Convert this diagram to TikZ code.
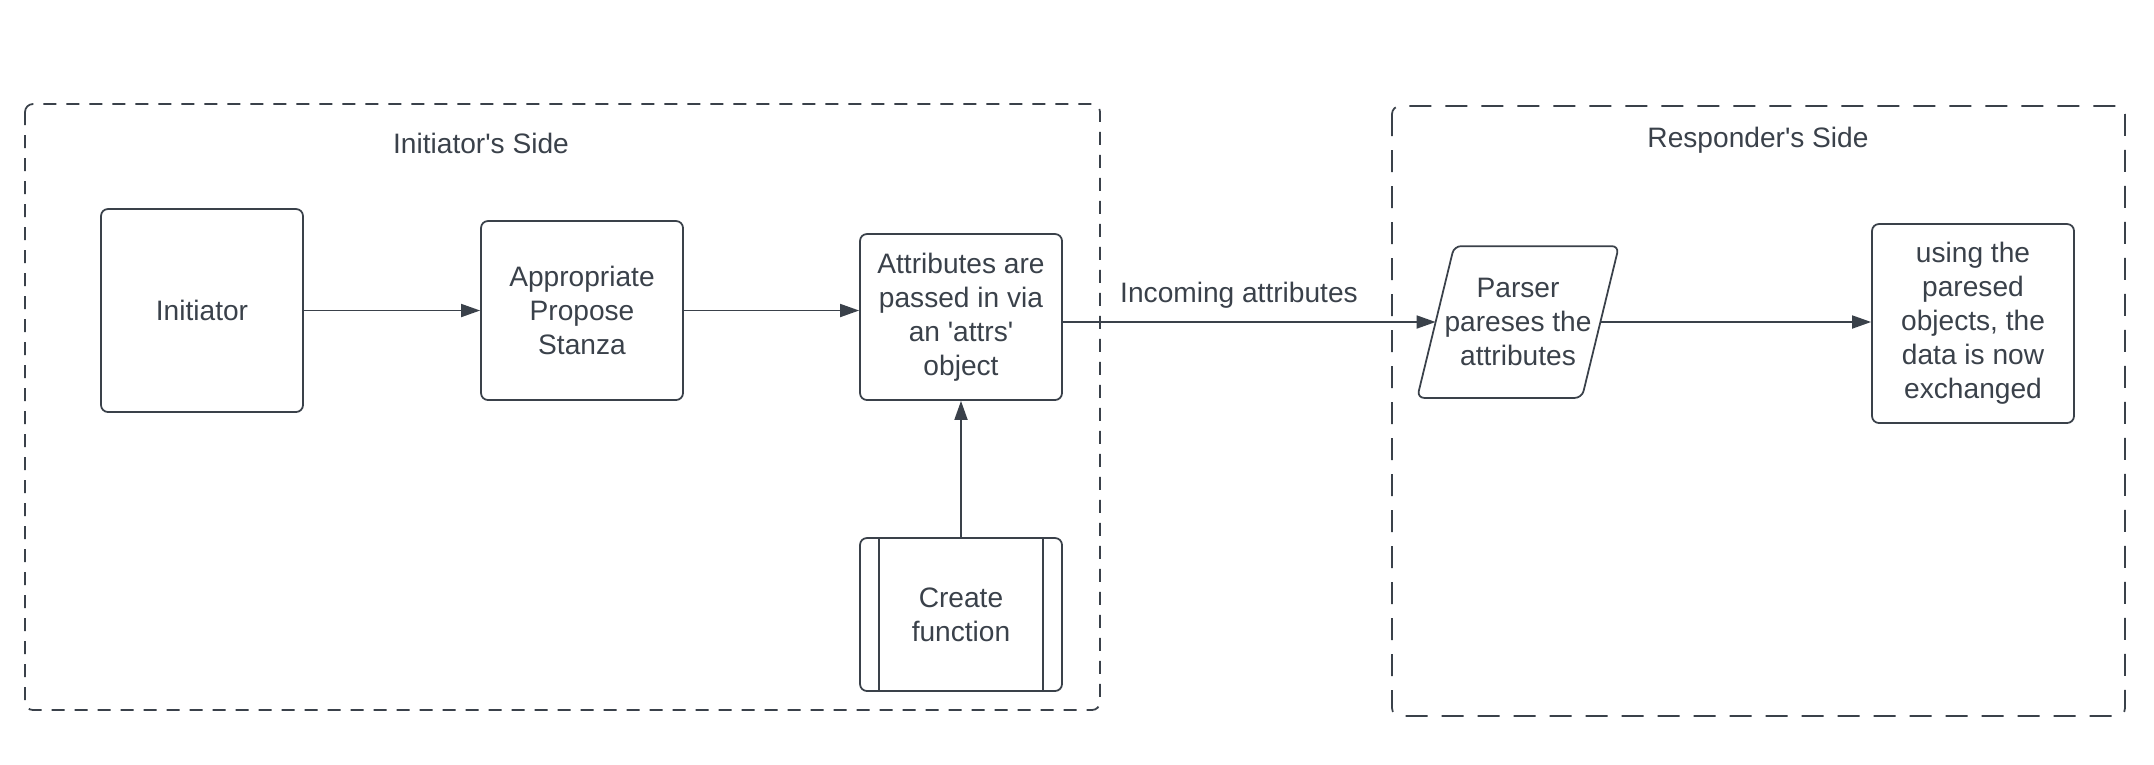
\documentclass[tikz,border=0pt]{standalone}
\usepackage{fontspec}
\setmainfont{Liberation Sans}[Ligatures=TeXOff]
\usetikzlibrary{arrows.meta}
\definecolor{lcline}{HTML}{3A414A}
\tikzset{
  box/.style={draw=lcline, line width=0.5pt, rounded corners=0.07cm, align=center,
    text=lcline, minimum width=2.02cm, inner sep=0pt},
  arr/.style={draw=lcline, line width=0.5pt, -{Triangle[length=0.19cm, width=0.13cm]}},
  lbl/.style={text=lcline, inner sep=1pt},
}
\begin{document}
\begin{tikzpicture}[font=\fontsize{8}{9.7}\selectfont]
        \useasboundingbox (0,0) rectangle (21.54,-7.64);
        % the two sides
        \draw[lcline, line width=0.5pt, rounded corners=0.08cm, dash pattern=on 0.13cm off 0.1cm]
          (0.25,-1.04) rectangle (11.00,-7.10);
        \draw[lcline, line width=0.5pt, rounded corners=0.08cm, dash pattern=on 0.22cm off 0.14cm]
          (13.92,-1.06) rectangle (21.25,-7.16);
        \node[lbl] (initside) at (4.81,-1.43) {Initiator's Side};
        \node[lbl] (respside) at (17.58,-1.40) {Responder's Side};
        % the steps on the initiator's side
        \node[box, minimum height=2.03cm] (initiator) at (2.02,-3.105) {Initiator};
        \node[box, minimum height=1.79cm] (stanza)    at (5.82,-3.105) {Appropriate\\Propose\\Stanza};
        \node[box, minimum height=1.66cm] (attrs)     at (9.61,-3.17)  {Attributes are\\passed in via\\an 'attrs'\\object};
        \node[box, minimum height=1.53cm] (create)    at (9.61,-6.145) {Create\\function};
        \draw[lcline, line width=0.5pt] ([xshift=0.2cm]create.north west) -- ([xshift=0.2cm]create.south west);
        \draw[lcline, line width=0.5pt] ([xshift=-0.2cm]create.north east) -- ([xshift=-0.2cm]create.south east);
        % the steps on the responder's side
        \node[box, draw=none, minimum width=1.63cm, minimum height=1.50cm] (parser) at (15.18,-3.22)
              {Parser\\pareses the\\attributes};
        \draw[lcline, line width=0.5pt, rounded corners=0.07cm]
          ([xshift=-0.185cm]parser.south west) -- ([xshift=0.185cm]parser.north west)
          -- ([xshift=0.185cm]parser.north east) -- ([xshift=-0.185cm]parser.south east) -- cycle;
        \node[box, minimum height=1.99cm] (using) at (19.73,-3.235) {using the\\paresed\\objects, the\\data is now\\exchanged};
        % the connectors
        \draw[arr] (initiator.east) -- (initiator.east -| stanza.west);
        \draw[arr] (stanza.east) -- (stanza.east -| attrs.west);
        \draw[arr] (create.north) -- (attrs.south);
        \draw[arr] (attrs.east |- parser.west) -- (parser.west);
        \draw[arr] (parser.east) -- (parser.east -| using.west);
        \node[lbl] (incoming) at (12.39,-2.95) {Incoming attributes};
      \end{tikzpicture}
\end{document}
